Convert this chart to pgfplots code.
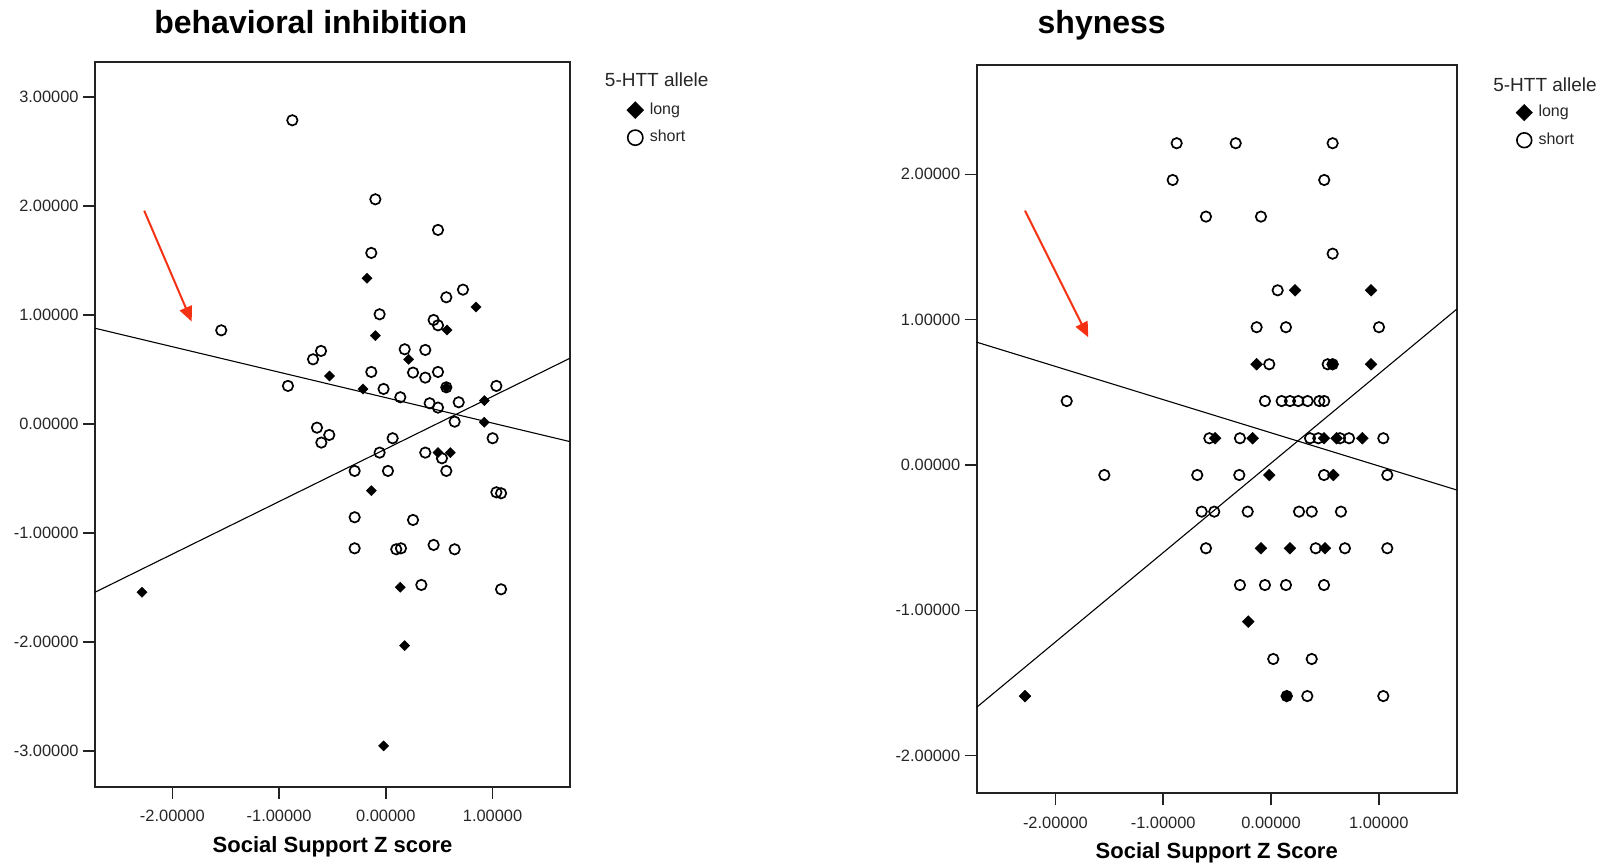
\documentclass[border=0pt]{standalone}
\usepackage{pgfplots}
\usepackage{pgfplotstable}
\pgfplotsset{compat=1.18}
\usepackage{fontspec}
\setmainfont{Liberation Sans}
\usetikzlibrary{arrows.meta}
\definecolor{arrowred}{RGB}{245,50,20}
\definecolor{framegray}{RGB}{35,35,35}

% behavioral inhibition, long allele
\pgfplotstableread{
x y
-0.176 1.336
0.845 1.073
-0.098 0.810
0.573 0.862
0.214 0.593
-0.527 0.440
-0.214 0.321
0.567 0.336
0.923 0.214
0.923 0.016
0.489 -0.263
0.604 -0.263
-0.136 -0.612
-2.285 -1.544
0.136 -1.498
0.176 -2.034
-0.021 -2.954
}\bilong
% behavioral inhibition, short allele
\pgfplotstableread{
x y
-0.876 2.786
-0.098 2.061
0.489 1.780
-0.136 1.569
0.723 1.232
0.567 1.162
-0.058 1.006
-1.542 0.859
0.448 0.954
0.489 0.905
-0.607 0.670
-0.682 0.593
0.177 0.685
0.370 0.679
-0.136 0.477
0.255 0.471
0.489 0.477
0.370 0.425
0.567 0.336
-0.917 0.349
-0.021 0.321
1.036 0.349
0.136 0.245
0.683 0.199
0.411 0.190
0.489 0.150
0.645 0.021
-0.645 -0.034
-0.530 -0.101
-0.604 -0.171
0.064 -0.131
1.001 -0.131
-0.058 -0.263
0.370 -0.263
0.526 -0.315
-0.292 -0.431
0.020 -0.431
0.567 -0.431
1.036 -0.627
1.080 -0.636
-0.292 -0.856
0.255 -0.881
-0.292 -1.141
0.098 -1.150
0.142 -1.141
0.448 -1.110
0.645 -1.150
0.333 -1.477
1.080 -1.517
}\bishort
% shyness, long allele
\pgfplotstableread{
x y
0.223 1.202
0.928 1.202
-0.133 0.693
0.928 0.693
0.572 0.693
-0.519 0.184
-0.170 0.184
0.492 0.184
0.609 0.184
0.847 0.184
-0.016 -0.069
0.578 -0.069
-0.093 -0.573
0.176 -0.573
0.501 -0.573
-0.211 -1.078
-2.282 -1.590
0.146 -1.590
}\shlong
% shyness, short allele
\pgfplotstableread{
x y
-0.875 2.214
-0.327 2.214
0.572 2.214
-0.912 1.961
0.494 1.961
-0.603 1.709
-0.093 1.709
0.572 1.454
0.062 1.202
-0.133 0.948
0.139 0.948
1.002 0.948
-0.016 0.693
0.526 0.693
0.572 0.693
-1.895 0.440
-0.056 0.440
0.099 0.440
0.176 0.440
0.253 0.440
0.340 0.440
0.448 0.440
0.494 0.440
-0.572 0.184
-0.288 0.184
0.362 0.184
0.439 0.184
0.640 0.184
0.724 0.184
1.042 0.184
-1.546 -0.069
-0.684 -0.069
-0.294 -0.069
0.492 -0.069
1.079 -0.069
-0.643 -0.321
-0.526 -0.321
-0.216 -0.321
0.260 -0.321
0.378 -0.321
0.649 -0.321
-0.603 -0.573
0.415 -0.573
0.686 -0.573
1.079 -0.573
-0.288 -0.826
-0.056 -0.826
0.139 -0.826
0.492 -0.826
0.021 -1.335
0.378 -1.335
0.337 -1.590
1.042 -1.590
0.146 -1.590
}\shshort

\tikzset{
  redarrow/.style={draw=arrowred, line width=1pt, -{Triangle[length=7.5pt,width=6.5pt]}},
}
\pgfplotsset{
  spss/.style={
    scale only axis,
    clip=false,
    axis line style={line width=1.1pt, draw=framegray},
    tick align=outside,
    xtick pos=bottom, ytick pos=left,
    major tick length=6pt,
    tick style={line width=0.8pt, draw=framegray},
    xtick={-2,-1,0,1},
    xticklabels={-2.00000,-1.00000,0.00000,1.00000},
    ticklabel style={font=\fontsize{8.2}{10}\selectfont, text=black!85},
    xticklabel style={yshift=-2.2pt},
    yticklabel style={xshift=1.3pt},
    legend style={draw=none, fill=none, inner sep=0pt, outer sep=0pt,
      font=\fontsize{8}{9.6}\selectfont, text=black!85,
      row sep=2.5pt, /tikz/every odd column/.append style={column sep=1pt}},
    legend cell align=left,
  },
  longmark/.style={only marks, mark=square*, mark size=1.8pt,
    mark options={rotate=45, fill=black, draw=black, line width=0.2pt}},
  shortmark/.style={only marks, mark=o, mark size=2.6pt,
    mark options={line width=0.85pt, draw=black}},
  fitline/.style={black, line width=0.55pt},
}

\begin{document}
\begin{tikzpicture}
\path[use as bounding box] (0,0) rectangle (802pt,432.5pt);

% ---------------- behavioral inhibition ----------------
\begin{axis}[spss,
  at={(47.5pt,39.15pt)}, anchor=south west,
  width=237.5pt, height=362.2pt,
  xmin=-2.725, xmax=1.726, ymin=-3.328, ymax=3.318,
  ytick={-3,-2,-1,0,1,2,3},
  yticklabels={-3.00000,-2.00000,-1.00000,0.00000,1.00000,2.00000,3.00000},
  legend style={at={(rel axis cs:1.1196,0.9150)}, anchor=west},
]
\addlegendimage{longmark, mark size=3pt}
\addlegendentry{long}
\addlegendimage{shortmark, mark size=3.8pt, mark options={line width=0.8pt}}
\addlegendentry{short}
\addplot[fitline, forget plot] coordinates {(-2.725,0.878) (1.726,-0.162)};
\addplot[fitline, forget plot] coordinates {(-2.725,-1.544) (1.726,0.603)};
\addplot[longmark, forget plot] table {\bilong};
\addplot[shortmark, forget plot] table {\bishort};
\draw[redarrow] (axis cs:-2.264,1.957) -- (axis cs:-1.819,0.939);
\node[font=\bfseries\fontsize{16}{19}\selectfont, anchor=base] at (rel axis cs:0.4543,1.0394) {behavioral inhibition};
\node[font=\bfseries\fontsize{11}{13}\selectfont, anchor=base] at (rel axis cs:0.5,-0.0911) {Social Support Z score};
\node[font=\fontsize{9.5}{11}\selectfont, text=black!85] at (rel axis cs:1.1825,0.9765) {5-HTT allele};
\end{axis}

% ---------------- shyness ----------------
\begin{axis}[spss,
  at={(488.35pt,35.85pt)}, anchor=south west,
  width=240pt, height=364.2pt,
  xmin=-2.730, xmax=1.723, ymin=-2.259, ymax=2.753,
  ytick={-2,-1,0,1,2},
  yticklabels={-2.00000,-1.00000,0.00000,1.00000,2.00000},
  legend style={at={(rel axis cs:1.1237,0.9155)}, anchor=west},
]
\addlegendimage{longmark, mark size=2.9pt}
\addlegendentry{long}
\addlegendimage{shortmark, mark size=3.7pt, mark options={line width=0.8pt}}
\addlegendentry{short}
\addplot[fitline, forget plot] coordinates {(-2.730,0.845) (1.723,-0.172)};
\addplot[fitline, forget plot] coordinates {(-2.730,-1.667) (1.723,1.072)};
\addplot[longmark, mark size=2.1pt, forget plot] table {\shlong};
\addplot[shortmark, forget plot] table {\shshort};
\draw[redarrow] (axis cs:-2.282,1.750) -- (axis cs:-1.695,0.879);
\node[font=\bfseries\fontsize{16}{19}\selectfont, anchor=base] at (rel axis cs:0.2604,1.0430) {shyness};
\node[font=\bfseries\fontsize{11}{13}\selectfont, anchor=base] at (rel axis cs:0.5,-0.0897) {Social Support Z Score};
\node[font=\fontsize{9.5}{11}\selectfont, text=black!85] at (rel axis cs:1.1840,0.9725) {5-HTT allele};
\end{axis}
\end{tikzpicture}
\end{document}
